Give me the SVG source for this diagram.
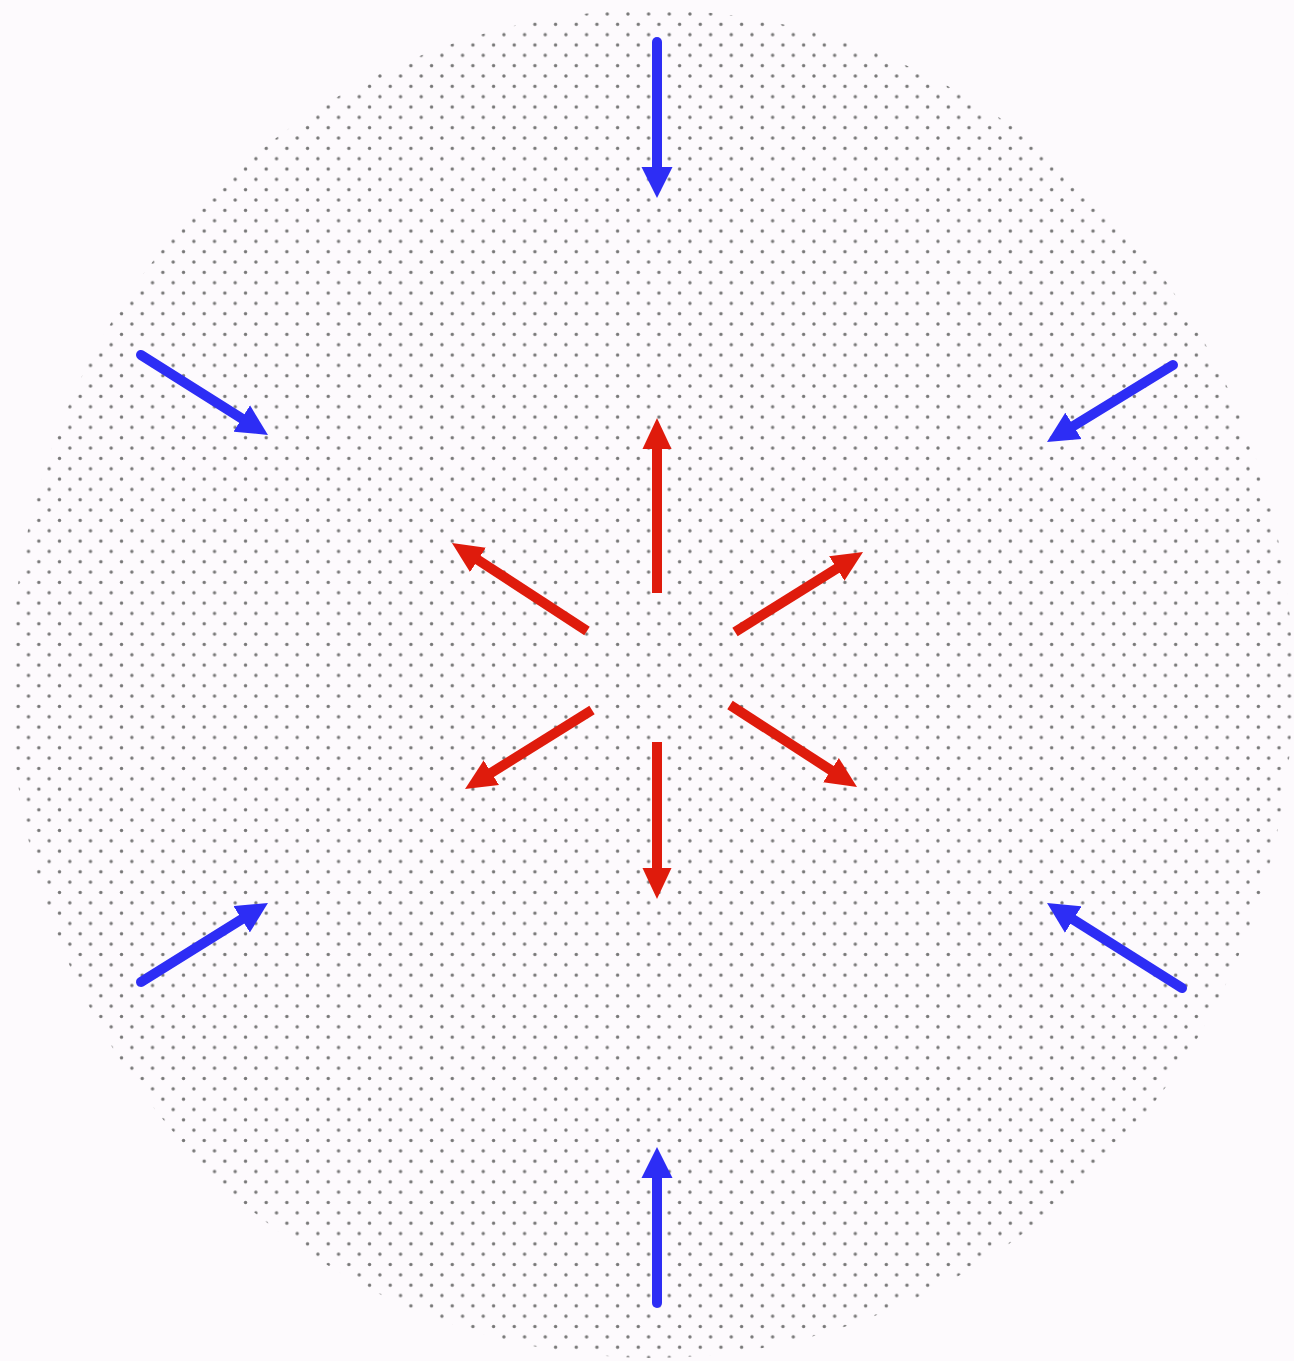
<svg xmlns="http://www.w3.org/2000/svg" width="1294" height="1361" viewBox="0 0 1294 1361">
  <style>
    .blue { stroke: #2d2df5; stroke-width: 10; stroke-linecap: round; fill: none; marker-end: url(#headBlue); }
    .red { stroke: #df1b0c; stroke-width: 10; stroke-linecap: butt; fill: none; marker-end: url(#headRed); }
    .dot { fill: #777777; }
  </style>
  <defs>
    <pattern id="dots" patternUnits="userSpaceOnUse" x="7.84" y="14" width="20.67" height="20.67">
      <circle class="dot" cx="0" cy="0" r="1.7"/>
      <circle class="dot" cx="20.67" cy="0" r="1.7"/>
      <circle class="dot" cx="0" cy="20.67" r="1.7"/>
      <circle class="dot" cx="20.67" cy="20.67" r="1.7"/>
      <circle class="dot" cx="10.335" cy="10.335" r="1.7"/>
    </pattern>
    <marker id="headBlue" markerUnits="userSpaceOnUse" markerWidth="31" markerHeight="32" viewBox="0 0 31 32" refX="1" refY="16" orient="auto">
      <path d="M0,0.5 L31,16 L0,31.5 z" fill="#2d2df5"/>
    </marker>
    <marker id="headRed" markerUnits="userSpaceOnUse" markerWidth="31" markerHeight="30" viewBox="0 0 31 30" refX="1" refY="15" orient="auto">
      <path d="M0,0.5 L31,15 L0,29.5 z" fill="#df1b0c"/>
    </marker>
  </defs>
  <rect x="0" y="0" width="1294" height="1361" fill="#fdfafd"/>
  <g id="disc">
    <ellipse cx="652" cy="684" rx="641" ry="674" fill="url(#dots)"/>
  </g>
  <g id="connectors">
    <g id="inward">
      <line class="blue" x1="657" y1="42" x2="657" y2="168"/>
      <line class="blue" x1="657" y1="1303" x2="657" y2="1177"/>
      <line class="blue" x1="141" y1="355" x2="242.6" y2="419.0"/>
      <line class="blue" x1="1173" y1="365" x2="1072.6" y2="426.4"/>
      <line class="blue" x1="141" y1="982" x2="242.5" y2="918.8"/>
      <line class="blue" x1="1182" y1="988" x2="1072.4" y2="919.0"/>
    </g>
    <g id="outward">
      <line class="red" x1="657" y1="593" x2="657" y2="448"/>
      <line class="red" x1="657" y1="742" x2="657" y2="869"/>
      <line class="red" x1="587" y1="631" x2="477.1" y2="559.4"/>
      <line class="red" x1="735" y1="632" x2="837.6" y2="567.9"/>
      <line class="red" x1="592" y1="710" x2="490.5" y2="773.2"/>
      <line class="red" x1="730" y1="705" x2="831.8" y2="770.7"/>
    </g>
  </g>
</svg>
